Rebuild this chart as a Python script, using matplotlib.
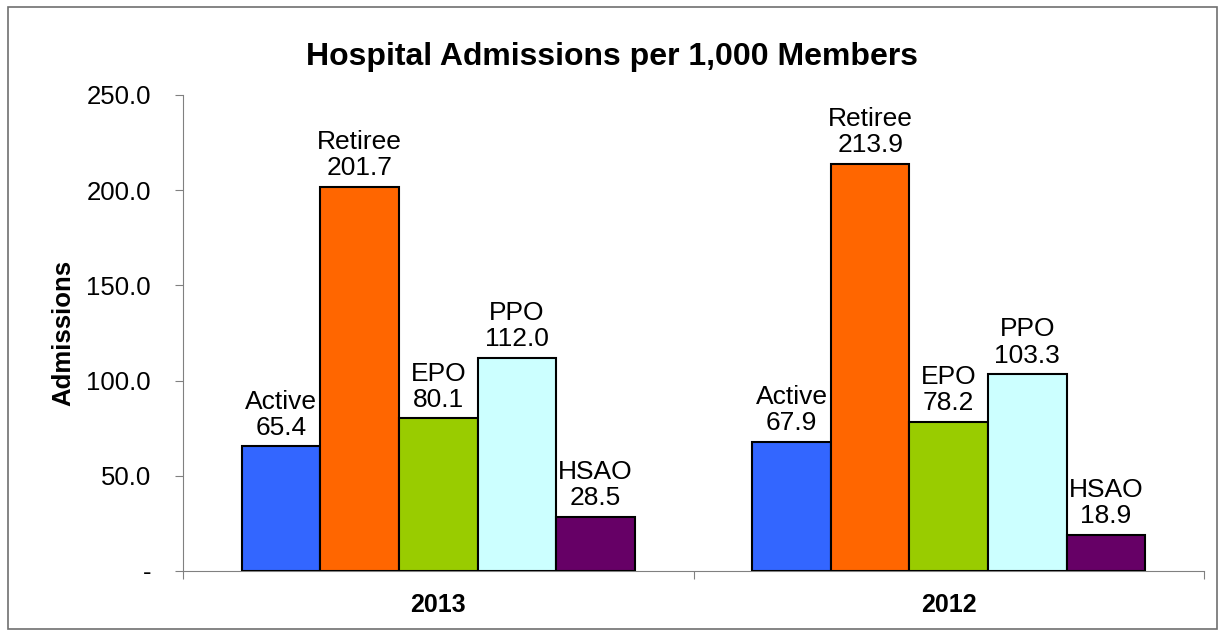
import numpy as np
import matplotlib.pyplot as plt
from matplotlib.patches import Rectangle

plt.rcParams['font.family'] = ['Liberation Sans', 'DejaVu Sans']

years = ['2013', '2012']
plans = ['Active', 'Retiree', 'EPO', 'PPO', 'HSAO']
values = {
    'Active': [65.4, 67.9],
    'Retiree': [201.7, 213.9],
    'EPO': [80.1, 78.2],
    'PPO': [112.0, 103.3],
    'HSAO': [28.5, 18.9],
}
colors = ['#3366FF', '#FF6600', '#99CC00', '#CCFFFF', '#660066']
yticks = [0, 50, 100, 150, 200, 250]
ytick_labels = ['-', '50.0', '100.0', '150.0', '200.0', '250.0']

fig = plt.figure(figsize=(12.25, 6.36), dpi=100)
ax = fig.add_axes([183/1225, 65/636, (1204-183)/1225, (571-95)/636])

x = np.arange(len(years))
w = 0.154
for i, p in enumerate(plans):
    pos = x + (i - 2) * w
    ax.bar(pos, values[p], w, color=colors[i], edgecolor='black', linewidth=1.5, zorder=3)
    for xp, v in zip(pos, values[p]):
        ax.text(xp, v + 3.5, p + '\n' + format(v, '.1f'), ha='center', va='bottom',
                fontsize=19, linespacing=1.12)

ax.set_xlim(-0.5, 1.5)
ax.set_ylim(0, 250)
ax.set_yticks(yticks)
ax.set_yticklabels(ytick_labels, fontsize=18.5)
ax.set_xticks([-0.5, 0.5, 1.5])
ax.set_xticklabels([])
ax.set_xticks(x, minor=True)
ax.set_xticklabels(years, minor=True, fontsize=18, fontweight='bold')
ax.tick_params(axis='x', which='minor', length=0, pad=16)
ax.tick_params(axis='x', which='major', length=6, color='#808080', direction='out')
ax.tick_params(axis='y', length=6, color='#808080', direction='out', pad=17)

for s in ['top', 'right']:
    ax.spines[s].set_visible(False)
for s in ['left', 'bottom']:
    ax.spines[s].set_color('#808080')

ax.set_ylabel('Admissions', fontsize=18.5, fontweight='bold', labelpad=8)
fig.text(0.5, 1 - 57/636, 'Hospital Admissions per 1,000 Members', ha='center', va='center',
         fontsize=23, fontweight='bold')

fig.patches.append(Rectangle((8/1225, 7/636), (1217-8)/1225, (629-7)/636, transform=fig.transFigure,
                             fill=False, edgecolor='#707070', linewidth=1.2))

fig.savefig('out.png', dpi=100)
